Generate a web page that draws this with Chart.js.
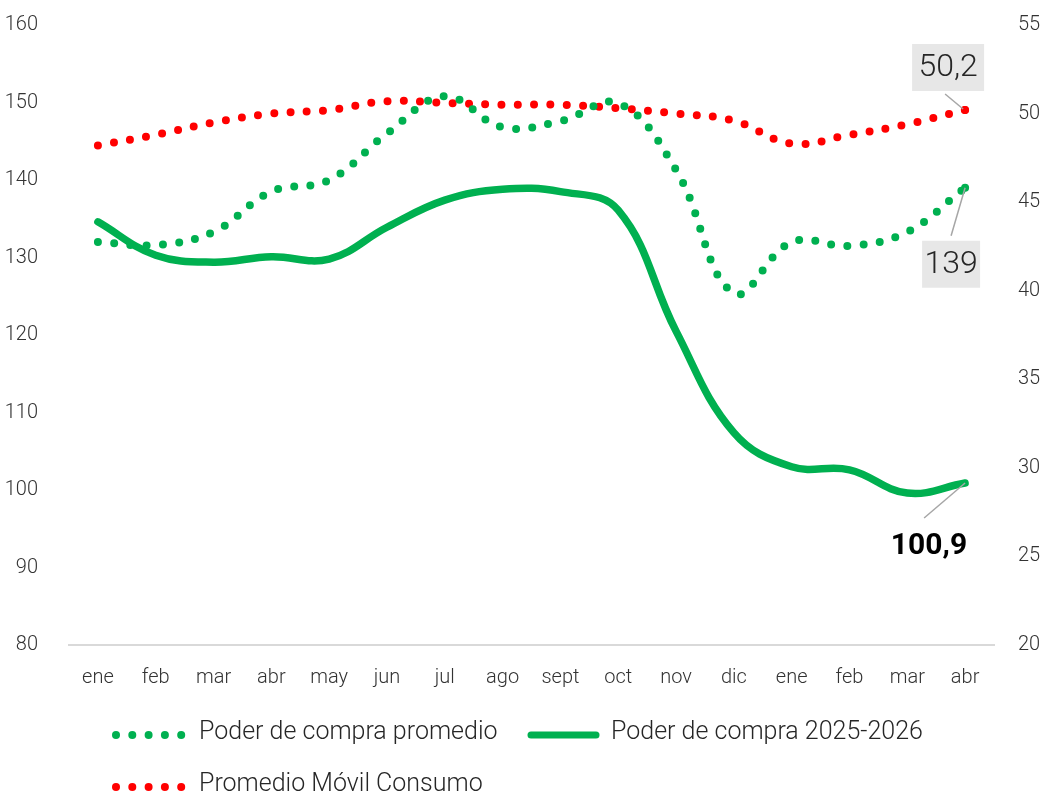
<!DOCTYPE html>
<html>
<head>
<meta charset="utf-8">
<script src="https://cdn.jsdelivr.net/npm/chart.js@4.4.1/dist/chart.umd.min.js"></script>
<style>
  body { margin: 0; background: #fff; }
  #wrap { width: 1042px; height: 795px; position: relative; }
</style>
</head>
<body>
<div id="wrap"><canvas id="poderChart"></canvas></div>
<script>
const meses = ['ene', 'feb', 'mar', 'abr', 'may', 'jun', 'jul', 'ago', 'sept', 'oct', 'nov', 'dic', 'ene', 'feb', 'mar', 'abr'];
const poderPromedio = [132.0, 131.6, 133.3, 138.5, 140.0, 146.0, 150.8, 146.8, 147.6, 149.9, 141.3, 125.4, 132.0, 131.5, 133.3, 139.0];
const poder2526 = [134.6, 130.3, 129.4, 130.1, 129.8, 133.9, 137.4, 138.8, 138.5, 136.1, 120.5, 107.4, 103.0, 102.6, 99.6, 100.9];
const movilConsumo = [48.2, 48.8, 49.5, 50.0, 50.2, 50.7, 50.6, 50.5, 50.5, 50.3, 50.0, 49.6, 48.3, 48.8, 49.4, 50.2];
const ticksIzq = [80, 90, 100, 110, 120, 130, 140, 150, 160];
const ticksDer = [20, 25, 30, 35, 40, 45, 50, 55];

const verde = '#00b050';
const rojo = '#ff0000';
const fuente = 'Roboto';

function coma(v, dec) {
    return v.toFixed(dec).replace('.', ',');
}

// punto solo en el último mes, para cerrar la línea punteada
function puntoFinal(n) {
    return meses.map((m, i) => (i === meses.length - 1 ? n : 0));
}

// etiquetas al final de cada serie
const etiquetasPlugin = {
    id: 'etiquetas',
    afterDatasetsDraw(chart) {
        const ctx = chart.ctx;
        const last = meses.length - 1;
        const pRojo = chart.getDatasetMeta(2).data[last];
        const pProm = chart.getDatasetMeta(0).data[last];
        const pSolid = chart.getDatasetMeta(1).data[last];
        ctx.save();
        ctx.strokeStyle = '#a6a6a6';
        ctx.lineWidth = 1.5;

        // 50,2
        ctx.beginPath();
        ctx.moveTo(pRojo.x - 20, pRojo.y - 16);
        ctx.lineTo(pRojo.x - 2, pRojo.y - 1);
        ctx.stroke();
        ctx.fillStyle = '#e7e7e7';
        ctx.fillRect(pRojo.x - 53, pRojo.y - 66, 72, 47);
        ctx.fillStyle = '#262626';
        ctx.font = '300 32px ' + fuente;
        ctx.textAlign = 'center';
        ctx.textBaseline = 'middle';
        ctx.fillText(coma(movilConsumo[last], 1), pRojo.x - 17, pRojo.y - 42);

        // 139
        ctx.beginPath();
        ctx.moveTo(pProm.x - 14, pProm.y + 48);
        ctx.lineTo(pProm.x, pProm.y);
        ctx.stroke();
        ctx.fillStyle = '#e7e7e7';
        ctx.fillRect(pProm.x - 43, pProm.y + 53, 58, 47);
        ctx.fillStyle = '#262626';
        ctx.fillText(coma(poderPromedio[last], 0), pProm.x - 14, pProm.y + 77);

        // 100,9
        ctx.beginPath();
        ctx.moveTo(pSolid.x - 41, pSolid.y + 35);
        ctx.lineTo(pSolid.x, pSolid.y);
        ctx.stroke();
        ctx.fillStyle = '#000';
        ctx.font = 'bold 30px ' + fuente;
        ctx.textAlign = 'right';
        ctx.fillText(coma(poder2526[last], 1), pSolid.x + 2, pSolid.y + 63);
        ctx.restore();
    }
};

// leyenda en dos filas, alineada a la izquierda
const leyendaPlugin = {
    id: 'leyenda',
    afterDraw(chart) {
        const ctx = chart.ctx;
        const sets = chart.data.datasets;
        const items = [
            { ds: sets[0], x: 116, y: 735 },
            { ds: sets[1], x: 528, y: 735 },
            { ds: sets[2], x: 116, y: 787 }
        ];
        ctx.save();
        items.forEach(it => {
            const c = it.ds.borderColor;
            if (it.ds.borderDash) {
                ctx.fillStyle = c;
                for (let i = 0; i < 5; i++) {
                    ctx.beginPath();
                    ctx.arc(it.x + i * 16.3, it.y, 4, 0, Math.PI * 2);
                    ctx.fill();
                }
            } else {
                ctx.strokeStyle = c;
                ctx.lineWidth = 7;
                ctx.lineCap = 'round';
                ctx.beginPath();
                ctx.moveTo(it.x + 3, it.y);
                ctx.lineTo(it.x + 68, it.y);
                ctx.stroke();
            }
            ctx.fillStyle = '#262626';
            ctx.font = '300 25px ' + fuente;
            ctx.textAlign = 'left';
            ctx.textBaseline = 'middle';
            ctx.fillText(it.ds.label, it.ds.borderDash ? 199 : 611, it.y - 2);
        });
        ctx.restore();
    }
};

function sinPaddingVertical(s, w) {
    s.width = w;
    s.paddingTop = 0;
    s.paddingBottom = 0;
}

const ctx = document.getElementById('poderChart').getContext('2d');
const poderChart = new Chart(ctx, {
    type: 'line',
    data: {
        labels: meses,
        datasets: [{
            label: 'Poder de compra promedio',
            data: poderPromedio,
            yAxisID: 'y',
            borderColor: verde,
            borderWidth: 8,
            borderDash: [0, 16.3],
            borderCapStyle: 'round',
            tension: 0.4,
            pointRadius: puntoFinal(4),
            pointBorderWidth: 0,
            pointBackgroundColor: verde,
            fill: false
        }, {
            label: 'Poder de compra 2025-2026',
            data: poder2526,
            yAxisID: 'y',
            borderColor: verde,
            borderWidth: 7.5,
            borderCapStyle: 'round',
            tension: 0.4,
            pointRadius: 0,
            fill: false
        }, {
            label: 'Promedio Móvil Consumo',
            data: movilConsumo,
            yAxisID: 'y1',
            borderColor: rojo,
            borderWidth: 8,
            borderDash: [0, 16.3],
            borderCapStyle: 'round',
            tension: 0.4,
            pointRadius: puntoFinal(4),
            pointBorderWidth: 0,
            pointBackgroundColor: rojo,
            fill: false
        }]
    },
    options: {
        responsive: true,
        maintainAspectRatio: false,
        animation: false,
        layout: { padding: { top: 25, bottom: 102, left: 0, right: 0 } },
        plugins: {
            legend: { display: false },
            tooltip: { enabled: false }
        },
        scales: {
            x: {
                offset: true,
                grid: { display: false, drawTicks: false },
                border: { display: true, color: '#d9d9d9', width: 2 },
                ticks: { color: '#333', padding: 21, font: { family: fuente, size: 20, weight: 300 } },
                afterFit(s) { s.height = 48; }
            },
            y: {
                position: 'left',
                min: 80,
                max: 160,
                afterBuildTicks(s) { s.ticks = ticksIzq.map(v => ({ value: v })); },
                grid: { display: false, drawTicks: false },
                border: { display: false },
                ticks: { color: '#333', padding: 31, font: { family: fuente, size: 20, weight: 300 } },
                afterFit(s) { sinPaddingVertical(s, 69); }
            },
            y1: {
                position: 'right',
                min: 20,
                max: 55,
                afterBuildTicks(s) { s.ticks = ticksDer.map(v => ({ value: v })); },
                grid: { display: false, drawTicks: false },
                border: { display: false },
                ticks: { color: '#333', padding: 24, font: { family: fuente, size: 20, weight: 300 } },
                afterFit(s) { sinPaddingVertical(s, 48); }
            }
        }
    },
    plugins: [etiquetasPlugin, leyendaPlugin]
});
</script>
</body>
</html>
